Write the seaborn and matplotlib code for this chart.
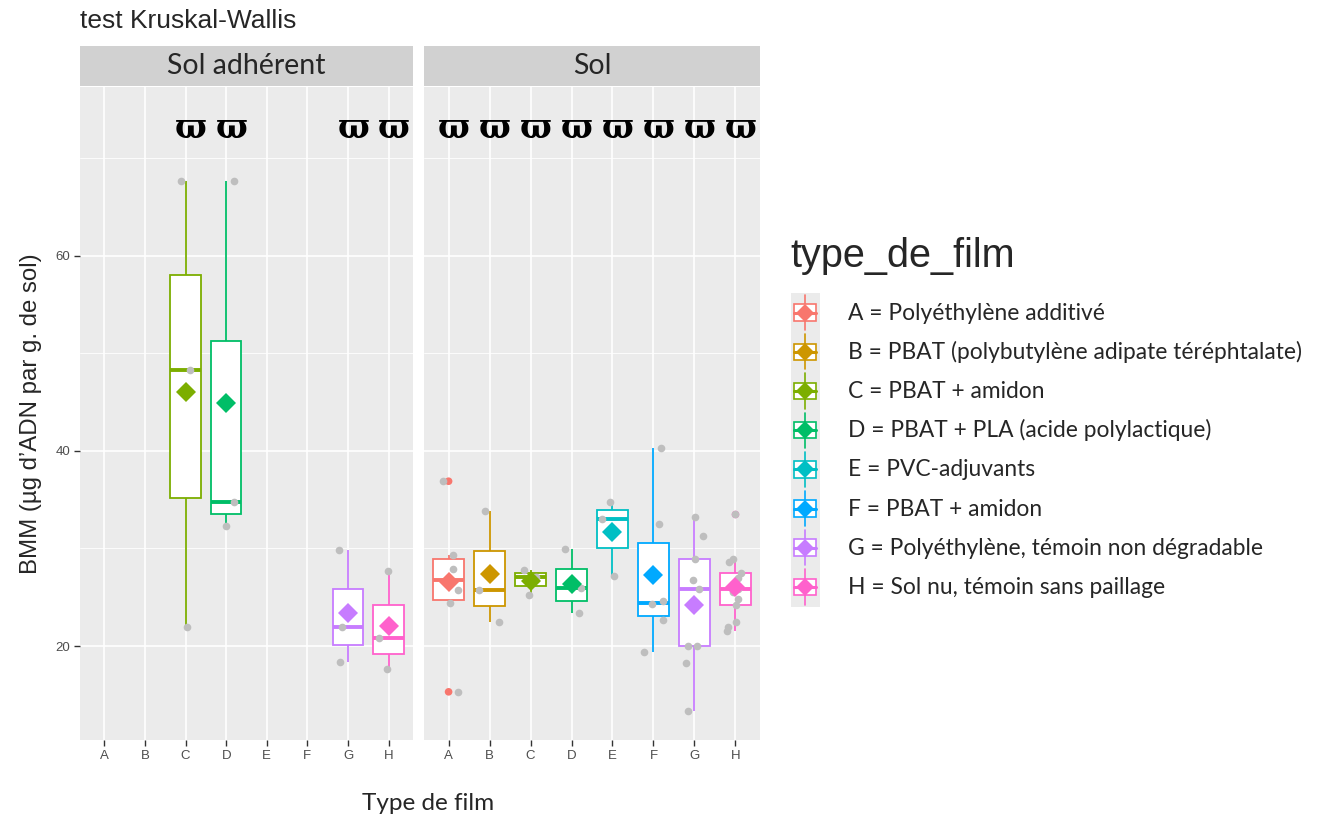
import numpy as np
import pandas as pd
import seaborn as sns
import matplotlib.pyplot as plt
from matplotlib.patches import Rectangle
from matplotlib.lines import Line2D
from matplotlib.legend_handler import HandlerBase

# ---- data ----
types = ["A", "B", "C", "D", "E", "F", "G", "H"]
type_labels = [
    "A = Polyéthylène additivé",
    "B = PBAT (polybutylène adipate téréphtalate)",
    "C = PBAT + amidon",
    "D = PBAT + PLA (acide polylactique)",
    "E = PVC-adjuvants",
    "F = PBAT + amidon",
    "G = Polyéthylène, témoin non dégradable",
    "H = Sol nu, témoin sans paillage",
]
palette = ["#F8766D", "#CD9600", "#7CAE00", "#00BE67",
           "#00BFC4", "#00A9FF", "#C77CFF", "#FF61CC"]
panels = ["Sol adhérent", "Sol"]

# Sol adhérent
adh_C = [22.0, 48.3, 67.7]
adh_D = [32.3, 34.8, 67.7]
adh_G = [18.4, 21.9, 29.8]
adh_H = [17.6, 20.8, 27.7]

# Sol
sol_A = [15.3, 24.4, 25.7, 27.9, 29.3, 36.9]
sol_B = [22.5, 25.75, 33.8]
sol_C = [25.2, 27.1, 27.8]
sol_D = [23.4, 25.9, 29.9]
sol_E = [27.2, 33.0, 34.8]
sol_F = [19.4, 22.7, 24.3, 24.6, 32.5, 40.3]
sol_G = [13.3, 18.3, 20.0, 20.0, 25.85, 26.8, 28.9, 31.3, 33.2]
sol_H = [21.5, 22.0, 22.5, 24.2, 24.8, 25.5, 25.8, 26.4, 27.0, 27.45, 28.6, 28.9, 33.5]

# Kruskal-Wallis letters
letters_adh = ["C", "D", "G", "H"]
letters_sol = types
letter_text = "ϖ"
letter_y = 73.1

groups = {
    "Sol adhérent": {"C": adh_C, "D": adh_D, "G": adh_G, "H": adh_H},
    "Sol": {"A": sol_A, "B": sol_B, "C": sol_C, "D": sol_D,
            "E": sol_E, "F": sol_F, "G": sol_G, "H": sol_H},
}
rows = []
for p in panels:
    for t, vals in groups[p].items():
        for v in vals:
            rows.append((p, t, v))
df = pd.DataFrame(rows, columns=["sol", "type_de_film", "bmm"])
pal = dict(zip(types, palette))

# ---- style ----
sns.set_style("darkgrid", {"axes.facecolor": "#EBEBEB", "grid.color": "white"})
plt.rcParams["font.family"] = ["Liberation Sans", "DejaVu Sans"]
body_font = ["Lato", "DejaVu Sans"]

W, H = 1317, 818
fig = plt.figure(figsize=(W / 100, H / 100), dpi=100)
panel_x = [(80, 413), (424, 760)]
top, bottom = 87, 740


class BoxKey(HandlerBase):
    # legend key: small boxplot with mean diamond on grey background
    def create_artists(self, legend, orig_handle, xdescent, ydescent,
                       width, height, fontsize, trans):
        col = orig_handle.get_color()
        x0, y0 = -xdescent, -ydescent
        bg = Rectangle((x0, y0), width, height, facecolor="#EBEBEB",
                       edgecolor="none", transform=trans)
        wl = Line2D([x0 + width / 2] * 2, [y0 + 0.05 * height, y0 + 0.95 * height],
                    color=col, lw=1.2, transform=trans)
        box = Rectangle((x0 + 0.12 * width, y0 + 0.29 * height), 0.76 * width,
                        0.42 * height, facecolor="white", edgecolor=col, lw=1.2,
                        transform=trans)
        med = Line2D([x0 + 0.12 * width, x0 + 0.88 * width], [y0 + height / 2] * 2,
                     color=col, lw=2.2, transform=trans)
        dia = Line2D([x0 + width / 2], [y0 + height / 2], marker="D", color=col,
                     markersize=9, markeredgewidth=0, transform=trans)
        return [bg, wl, box, med, dia]


for i, p in enumerate(panels):
    x0, x1 = panel_x[i]
    ax = fig.add_axes([x0 / W, 1 - bottom / H, (x1 - x0) / W, (bottom - top) / H])
    d = df[df["sol"] == p]

    for t in types:
        sub = d[d["type_de_film"] == t]
        if len(sub) == 0:
            continue
        sns.boxplot(data=sub, x="type_de_film", y="bmm", order=types,
                    color="white", linecolor=pal[t], linewidth=1.3, width=0.75,
                    showcaps=False, showfliers=False, saturation=1,
                    medianprops=dict(linewidth=2.8), ax=ax)

    # outliers in group colour (1.5 IQR rule)
    outl = []
    for t, g in d.groupby("type_de_film"):
        q1, q3 = np.percentile(g["bmm"], [25, 75])
        iqr = q3 - q1
        outl.append(g[(g["bmm"] < q1 - 1.5 * iqr) | (g["bmm"] > q3 + 1.5 * iqr)])
    outl = pd.concat(outl)
    if len(outl):
        sns.stripplot(data=outl, x="type_de_film", y="bmm", hue="type_de_film",
                      order=types, hue_order=types, palette=pal, jitter=False,
                      size=5.5, legend=False, ax=ax, zorder=3)

    np.random.seed(3 + i)
    sns.stripplot(data=d, x="type_de_film", y="bmm", order=types,
                  color="#BEBEBE", size=5.5, jitter=0.25, ax=ax, zorder=4)

    sns.pointplot(data=d, x="type_de_film", y="bmm", hue="type_de_film",
                  order=types, hue_order=types, palette=pal, estimator="mean",
                  errorbar=None, markers="D", linestyles="none", legend=False,
                  markersize=10, markeredgewidth=0, ax=ax, zorder=5)

    lt = letters_adh if i == 0 else letters_sol
    for t in lt:
        ax.annotate(letter_text, (types.index(t), letter_y), xytext=(4, 0),
                    textcoords="offset points", ha="center", va="center",
                    fontsize=24, fontweight="bold",
                    family=["DejaVu Serif", "DejaVu Sans"], color="black")

    ax.set_xlim(-0.6, 7.6)
    ax.set_ylim(10.36, 77.33)
    ax.set_yticks([20, 40, 60])
    ax.set_yticks([30, 50, 70], minor=True)
    ax.grid(True, which="major", color="white", lw=1.2)
    ax.grid(True, which="minor", axis="y", color="white", lw=0.6)
    ax.set_axisbelow(True)
    for s in ax.spines.values():
        s.set_visible(False)
    ax.set_xlabel("")
    ax.set_ylabel("")
    ax.tick_params(axis="both", which="major", length=4, width=1,
                   color="#333333", labelsize=9.5, labelcolor="#4D4D4D", pad=3)
    ax.tick_params(axis="y", which="minor", length=0)
    ax.tick_params(axis="x", bottom=True)
    if i == 0:
        ax.tick_params(axis="y", left=True)
        ax.set_ylabel("BMM (µg d’ADN par g. de sol)", fontsize=17.3, labelpad=10)
    else:
        ax.tick_params(axis="y", left=False, labelleft=False)

    # facet strip
    sx = fig.add_axes([x0 / W, 1 - 86 / H, (x1 - x0) / W, 40 / H])
    sx.set_facecolor("#D1D1D1")
    sx.set_xticks([])
    sx.set_yticks([])
    sx.grid(False)
    for s in sx.spines.values():
        s.set_visible(False)
    sx.text(0.5, 0.5, p, ha="center", va="center", fontsize=20.5,
            family=body_font, transform=sx.transAxes)

fig.text(80 / W, 1 - 21 / H, "test Kruskal-Wallis", ha="left", va="center",
         fontsize=19)
fig.text(428 / W, 1 - 803 / H, "Type de film", ha="center", va="center",
         fontsize=17.5, family=body_font)

# legend
fig.text(790 / W, 1 - 256 / H, "type_de_film", ha="left", va="center",
         fontsize=28.5)
handles = [Line2D([], [], color=c) for c in palette]
leg = fig.legend(handles, type_labels, loc="upper left",
                 bbox_to_anchor=(791 / W, 1 - 293 / H), frameon=False,
                 handler_map={Line2D: BoxKey()},
                 prop={"family": body_font, "size": 16.4}, handlelength=1.27,
                 handleheight=2.27, labelspacing=0.0, handletextpad=1.25,
                 borderpad=0, borderaxespad=0)

fig.savefig("out.png", dpi=100)
